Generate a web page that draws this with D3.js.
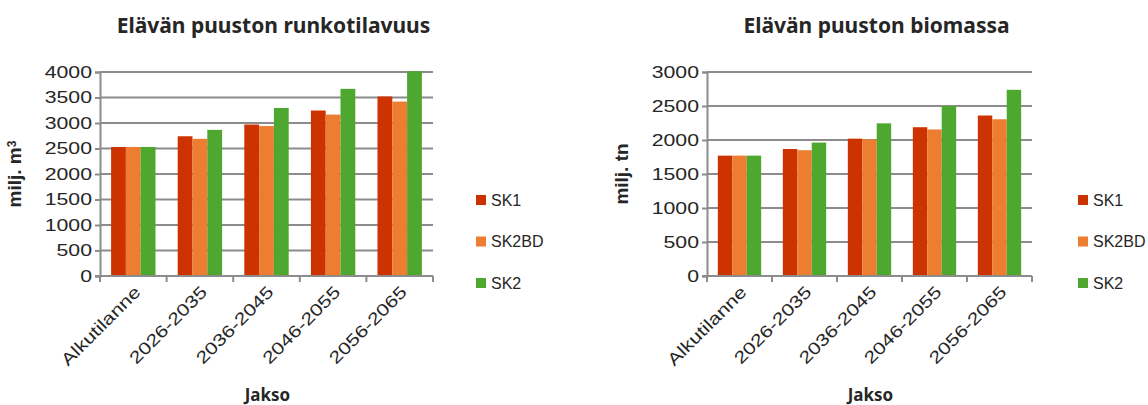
<!DOCTYPE html>
<html>
<head>
<meta charset="utf-8">
<script src="https://cdn.jsdelivr.net/npm/d3@7"></script>
<style>
  body { margin: 0; background: #fff; }
  svg text { fill: #262626; }
</style>
</head>
<body>
<div id="chartContainer"></div>
<script>

// categories and series
var categories = ["Alkutilanne", "2026-2035", "2036-2045", "2046-2055", "2056-2065"];
var seriesNames = ["SK1", "SK2BD", "SK2"];
var seriesColors = ["#CC3300", "#ED7D31", "#4EA72E"];

// runkotilavuus, milj. m3
var volumeSK1 = [2530, 2740, 2970, 3245, 3520];
var volumeSK2BD = [2530, 2690, 2940, 3165, 3420];
var volumeSK2 = [2530, 2865, 3295, 3670, 4015];
var volumeTicks = [0, 500, 1000, 1500, 2000, 2500, 3000, 3500, 4000];

// biomassa, milj. tn
var biomassSK1 = [1770, 1868, 2020, 2188, 2360];
var biomassSK2BD = [1770, 1850, 2010, 2155, 2305];
var biomassSK2 = [1770, 1962, 2245, 2500, 2738];
var biomassTicks = [0, 500, 1000, 1500, 2000, 2500, 3000];

var chartConfig = {
  top: 72,
  bot: 276,
  gridColor: "#8c8c8c",
  tickFont: "'Liberation Sans', Arial, sans-serif",
  titleFont: "'Noto Sans', 'Open Sans', sans-serif",
  stretch: 1.25 // tick labels are drawn wide in the original
};

var svg = d3.select("#chartContainer").append("svg")
  .attr("width", 1148)
  .attr("height", 405);

function drawBarChart(opts){

  var g = svg.append("g");

  var x = d3.scaleBand()
    .domain(categories)
    .range([opts.left, opts.right]);

  // gap width 150% -> group = 3 bars, gap = 1.5 bars
  var x1 = d3.scaleBand()
    .domain(seriesNames)
    .range([0, x.bandwidth() * 3 / 4.5]);

  var y = d3.scaleLinear()
    .domain([0, d3.max(opts.ticks)])
    .range([chartConfig.bot, chartConfig.top]);

  // gridlines
  g.selectAll(".grid")
    .data(opts.ticks.slice(1))
    .enter().append("line")
    .attr("x1", opts.left)
    .attr("x2", opts.right)
    .attr("y1", function(d) { return y(d); })
    .attr("y2", function(d) { return y(d); })
    .style("stroke", chartConfig.gridColor)
    .style("stroke-width", "2px");

  // bars
  var rows = seriesNames.map(function(name, i) {
    return opts.values[i].map(function(v, j) { return {cat: categories[j], name: name, value: v, color: seriesColors[i]}; });
  });
  var flat = [].concat.apply([], rows);

  g.selectAll(".bar")
    .data(flat)
    .enter().append("rect")
    .attr("class", "bar")
    .attr("x", function(d) { return x(d.cat) + x.bandwidth() * 0.75 / 4.5 + x1(d.name); })
    .attr("y", function(d) { return y(d.value); })
    .attr("width", x1.bandwidth())
    .attr("height", function(d) { return y(0) - y(d.value); })
    .style("fill", function(d) { return d.color; });

  // y axis
  var yAxis = g.append("g")
    .attr("transform", "translate(" + opts.left + ",0)")
    .call(d3.axisLeft(y).tickValues(opts.ticks).tickSize(5).tickPadding(8).tickFormat(d3.format("d")));
  yAxis.select(".domain").style("stroke", chartConfig.gridColor).style("stroke-width", "2px");
  yAxis.selectAll(".tick line").style("stroke", chartConfig.gridColor).style("stroke-width", "2px");
  yAxis.selectAll("text")
    .attr("x", null)
    .attr("transform", "translate(-8,0) scale(" + chartConfig.stretch + ",1)")
    .style("font-family", chartConfig.tickFont)
    .style("font-size", "17px")
    .style("fill", "#262626");

  // x axis baseline and ticks at band edges
  g.append("line")
    .attr("x1", opts.left - 5)
    .attr("x2", opts.right)
    .attr("y1", y(0))
    .attr("y2", y(0))
    .style("stroke", chartConfig.gridColor)
    .style("stroke-width", "2px");

  var edges = categories.map(function(c) { return x(c); }).concat([opts.right]);
  g.selectAll(".xtick")
    .data(edges)
    .enter().append("line")
    .attr("x1", function(d) { return d; })
    .attr("x2", function(d) { return d; })
    .attr("y1", y(0))
    .attr("y2", y(0) + 6)
    .style("stroke", chartConfig.gridColor)
    .style("stroke-width", "2px");

  g.selectAll(".xlabel")
    .data(categories)
    .enter().append("text")
    .attr("transform", function(d) { return "translate(" + (x(d) + x.bandwidth() / 2 + 4) + "," + (y(0) + 13) + ") rotate(-45) scale(" + chartConfig.stretch + ",1)"; })
    .attr("text-anchor", "end")
    .attr("dy", "0.35em")
    .style("font-family", chartConfig.tickFont)
    .style("font-size", "17px")
    .text(function(d) { return d; });

  // titles
  g.append("text")
    .attr("x", (opts.left + opts.right) / 2 + 7)
    .attr("y", 33)
    .attr("text-anchor", "middle")
    .style("font-family", chartConfig.titleFont)
    .style("font-weight", "bold")
    .style("font-size", "21px")
    .text(opts.title);

  g.append("text")
    .attr("x", (opts.left + opts.right) / 2 + 1)
    .attr("y", 401)
    .attr("text-anchor", "middle")
    .style("font-family", chartConfig.titleFont)
    .style("font-weight", "bold")
    .style("font-size", "17px")
    .text("Jakso");

  var yTitle = g.append("text")
    .attr("transform", "translate(" + (opts.left - 79) + "," + ((chartConfig.top + chartConfig.bot) / 2) + ") rotate(-90)")
    .attr("text-anchor", "middle")
    .style("font-family", chartConfig.tickFont)
    .style("font-weight", "bold")
    .style("font-size", "19px");
  yTitle.append("tspan").text(opts.yLabel);
  if (opts.ySup) {
    yTitle.append("tspan").attr("dy", "-0.45em").style("font-size", "12px").text(opts.ySup);
  }

  // legend
  var legend = g.selectAll(".legend")
    .data(seriesNames)
    .enter().append("g")
    .attr("transform", function(d, i) { return "translate(" + opts.legendX + "," + (200 + i * 41.5) + ")"; });
  legend.append("rect")
    .attr("x", 0)
    .attr("y", -5)
    .attr("width", 10)
    .attr("height", 10)
    .style("fill", function(d, i) { return seriesColors[i]; });
  legend.append("text")
    .attr("x", 15)
    .attr("dy", "0.35em")
    .style("font-family", chartConfig.tickFont)
    .style("font-size", "16px")
    .text(function(d) { return d; });
}

drawBarChart({
  left: 100, right: 433,
  title: "Elävän puuston runkotilavuus",
  yLabel: "milj. m", ySup: "3",
  ticks: volumeTicks,
  values: [volumeSK1, volumeSK2BD, volumeSK2],
  legendX: 476
});

drawBarChart({
  left: 707, right: 1032,
  title: "Elävän puuston biomassa",
  yLabel: "milj. tn", ySup: null,
  ticks: biomassTicks,
  values: [biomassSK1, biomassSK2BD, biomassSK2],
  legendX: 1078
});

</script>
</body>
</html>
